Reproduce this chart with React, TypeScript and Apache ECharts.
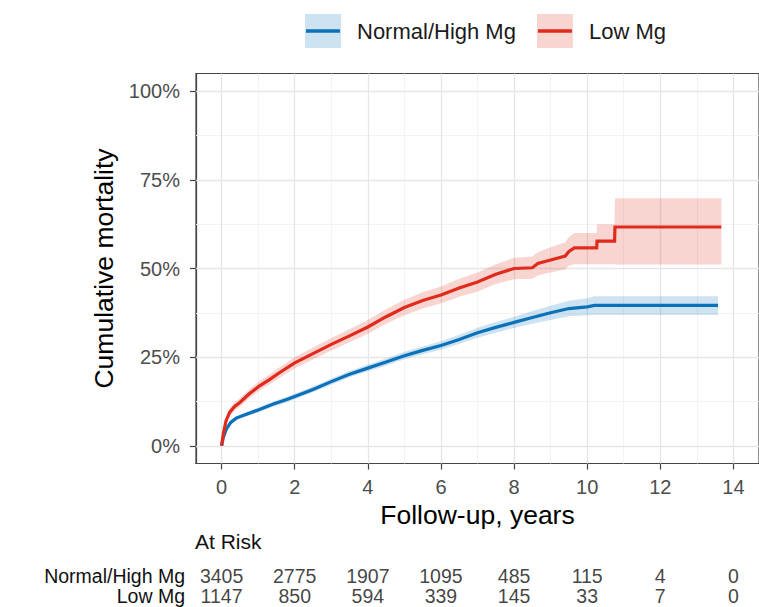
import React, { useEffect, useRef } from "react";
import * as echarts from "echarts";

// ---------- data ----------
const groups = ["Normal/High Mg", "Low Mg"];

const xTicks = [0, 2, 4, 6, 8, 10, 12, 14];
const xMinor = [1, 3, 5, 7, 9, 11, 13];
const yTicks = [0, 25, 50, 75, 100];
const yMinor = [12.5, 37.5, 62.5, 87.5];

// Normal/High Mg: cumulative mortality (%) with 95% CI
const normalTime = [0, 0.05, 0.13, 0.25, 0.4, 0.68, 1.0, 1.4, 1.8, 2.0, 2.5, 3.0, 3.5, 4.0, 4.5, 5.0, 5.5, 6.0, 6.5, 7.0, 7.5, 8.0, 8.5, 9.0, 9.5, 10.0, 10.2, 13.58];
const normalEst = [0, 2.5, 4.7, 6.6, 7.8, 8.9, 10.1, 11.7, 13.1, 13.9, 15.9, 18.1, 20.2, 21.9, 23.6, 25.4, 26.9, 28.3, 30.0, 31.9, 33.4, 34.8, 36.2, 37.5, 38.7, 39.2, 39.6, 39.6];
const normalLower = [0, 2.1, 4.2, 6.0, 7.2, 8.3, 9.4, 11.0, 12.3, 13.1, 15.1, 17.2, 19.3, 21.0, 22.6, 24.4, 25.8, 27.1, 28.7, 30.5, 31.9, 33.2, 34.4, 35.5, 36.5, 36.8, 36.9, 36.9];
const normalUpper = [0, 2.9, 5.2, 7.2, 8.4, 9.5, 10.8, 12.4, 13.9, 14.7, 16.7, 19.0, 21.1, 22.9, 24.6, 26.5, 28.0, 29.5, 31.3, 33.3, 34.9, 36.4, 38.0, 39.5, 40.9, 41.6, 42.2, 42.2];

// Low Mg: cumulative mortality (%) with 95% CI
const lowTime = [0, 0.05, 0.12, 0.22, 0.35, 0.5, 0.75, 1.04, 1.3, 1.58, 2.0, 2.5, 3.0, 3.5, 4.0, 4.5, 5.0, 5.5, 6.0, 6.5, 7.0, 7.5, 8.0, 8.5, 8.65, 9.0, 9.4, 9.5, 9.65, 10.26, 10.27, 10.75, 10.76, 13.67];
const lowEst = [0, 3.5, 7.0, 9.4, 11.0, 12.2, 14.6, 16.9, 18.6, 20.6, 23.4, 26.0, 28.6, 31.0, 33.5, 36.4, 39.0, 41.0, 42.5, 44.5, 46.2, 48.4, 50.0, 50.2, 51.4, 52.4, 53.5, 54.8, 55.8, 55.8, 57.7, 57.7, 61.7, 61.7];
const lowLower = [0, 2.8, 6.0, 8.3, 9.8, 11.0, 13.3, 15.6, 17.2, 19.1, 21.9, 24.3, 26.9, 29.2, 31.6, 34.4, 36.8, 38.7, 40.1, 42.0, 43.5, 45.6, 47.0, 47.1, 48.0, 48.9, 49.8, 50.8, 51.2, 51.2, 51.2, 51.2, 51.1, 51.1];
const lowUpper = [0, 4.2, 8.0, 10.5, 12.2, 13.4, 15.9, 18.3, 20.0, 22.1, 25.0, 27.7, 30.4, 32.9, 35.5, 38.5, 41.2, 43.3, 44.9, 47.1, 48.9, 51.2, 53.0, 53.4, 54.6, 56.0, 57.4, 58.9, 60.0, 60.0, 62.5, 62.5, 69.8, 69.8];

// Numbers at risk at each x tick
const riskNormal = [3405, 2775, 1907, 1095, 485, 115, 4, 0];
const riskLow = [1147, 850, 594, 339, 145, 33, 7, 0];

// ---------- styles ----------
const BLUE = "#0B72B9";
const RED = "#E02B1C";
const BLUE_FILL = "rgba(11,114,185,0.2)";
const RED_FILL = "rgba(224,43,28,0.2)";
const FONT = "'Liberation Sans', Arial, sans-serif";

function legendIcon(line: string, fill: string): string {
  const svg =
    `<svg xmlns="http://www.w3.org/2000/svg" width="47" height="34" viewBox="0 0 47 34">` +
    `<rect x="0" y="0" width="36" height="34" fill="${fill}"/>` +
    `<line x1="1" y1="17" x2="35" y2="17" stroke="${line}" stroke-width="3.6"/>` +
    `</svg>`;
  return "image://data:image/svg+xml;charset=utf-8," + encodeURIComponent(svg);
}

function bandSeries(name: string, fill: string, time: number[], lo: number[], hi: number[]) {
  return {
    type: "custom",
    name,
    xAxisIndex: 0,
    yAxisIndex: 0,
    z: 2,
    silent: true,
    data: time.map((t, i) => [t, lo[i], hi[i]]),
    encode: { x: 0, y: [1, 2] },
    renderItem: (params: any, api: any) => {
      if (params.dataIndexInside !== 0) return null;
      const up: number[][] = [];
      const dn: number[][] = [];
      for (let i = 0; i < time.length; i++) {
        const t = api.value(0, i);
        up.push(api.coord([t, api.value(2, i)]));
        dn.unshift(api.coord([t, api.value(1, i)]));
      }
      return {
        type: "polygon",
        shape: { points: up.concat(dn) },
        style: { fill },
      };
    },
  };
}

function lineSeries(name: string, color: string, time: number[], est: number[], extra: any = {}) {
  return {
    type: "line",
    name,
    xAxisIndex: 0,
    yAxisIndex: 0,
    z: 3,
    showSymbol: false,
    symbol: "none",
    data: time.map((t, i) => [t, est[i]]),
    lineStyle: { width: 3.2, color, cap: "butt", join: "miter" },
    itemStyle: { color },
    ...extra,
  };
}

const majorGrid = { color: "#E6E6E6", width: 1.3, type: "solid" };
const minorGrid = { color: "#F2F2F2", width: 0.9, type: "solid" };

export default function App() {
  const ref = useRef<HTMLDivElement>(null);

  useEffect(() => {
    if (!ref.current) return;
    const chart = echarts.init(ref.current, null, { renderer: "svg" });

    const gridLines = [
      ...xMinor.map((v) => ({ xAxis: v, lineStyle: minorGrid })),
      ...yMinor.map((v) => ({ yAxis: v, lineStyle: minorGrid })),
      ...xTicks.map((v) => ({ xAxis: v, lineStyle: majorGrid })),
      ...yTicks.map((v) => ({ yAxis: v, lineStyle: majorGrid })),
    ];

    const riskData = [
      ...riskNormal.map((n, i) => [xTicks[i], groups[0], n]),
      ...riskLow.map((n, i) => [xTicks[i], groups[1], n]),
    ];

    const option: any = {
      animation: false,
      textStyle: { fontFamily: FONT },
      title: {
        text: "At Risk",
        left: 195,
        top: 531,
        padding: 0,
        textStyle: { fontSize: 21, fontWeight: "normal", color: "#111", fontFamily: FONT },
      },
      legend: {
        left: 305,
        top: 14,
        padding: 0,
        itemWidth: 47,
        itemHeight: 34,
        itemGap: 21,
        selectedMode: false,
        textStyle: { fontSize: 22, color: "#1a1a1a", fontFamily: FONT },
        data: [
          { name: groups[0], icon: legendIcon(BLUE, BLUE_FILL) },
          { name: groups[1], icon: legendIcon(RED, RED_FILL) },
        ],
      },
      grid: [
        {
          left: 196,
          right: -4.5,
          top: 73.5,
          height: 390,
          show: true,
          borderColor: "#444",
          borderWidth: 1.2,
          backgroundColor: "transparent",
        },
        { left: 196, right: -4.5, top: 566, height: 40 },
      ],
      xAxis: [
        {
          type: "value",
          gridIndex: 0,
          min: -0.7,
          max: 14.7,
          minInterval: 2,
          maxInterval: 2,
          name: "Follow-up, years",
          nameLocation: "middle",
          nameGap: 36,
          nameTextStyle: { fontSize: 26.5, color: "#000", fontFamily: FONT },
          axisLine: { show: true, onZero: false, lineStyle: { color: "#444", width: 1.2 } },
          axisTick: { show: true, length: 6, customValues: xTicks, lineStyle: { color: "#444", width: 1.2 } },
          axisLabel: {
            show: true,
            customValues: xTicks,
            margin: 13,
            fontSize: 20,
            color: "#4D4D4D",
            fontFamily: FONT,
            formatter: (v: number) => (xTicks.includes(v) ? String(v) : ""),
          },
          splitLine: { show: false },
        },
        {
          type: "value",
          gridIndex: 1,
          min: -0.7,
          max: 14.7,
          show: false,
        },
      ],
      yAxis: [
        {
          type: "value",
          gridIndex: 0,
          min: -5,
          max: 105,
          minInterval: 25,
          maxInterval: 25,
          name: "Cumulative mortality",
          nameLocation: "middle",
          nameGap: 79,
          nameTextStyle: { fontSize: 26.5, color: "#000", fontFamily: FONT },
          axisLine: { show: true, onZero: false, lineStyle: { color: "#444", width: 1.2 } },
          axisTick: { show: true, length: 6, customValues: yTicks, lineStyle: { color: "#444", width: 1.2 } },
          axisLabel: {
            show: true,
            customValues: yTicks,
            margin: 16,
            fontSize: 20,
            color: "#4D4D4D",
            fontFamily: FONT,
            formatter: (v: number) => (yTicks.includes(v) ? v + "%" : ""),
          },
          splitLine: { show: false },
        },
        {
          type: "category",
          gridIndex: 1,
          data: groups,
          inverse: true,
          axisLine: { show: false },
          axisTick: { show: false },
          splitLine: { show: false },
          axisLabel: {
            show: true,
            interval: 0,
            hideOverlap: false,
            margin: 11,
            fontSize: 19.5,
            color: "#111",
            fontFamily: FONT,
          },
        },
      ],
      series: [
        bandSeries("Normal/High Mg CI", BLUE_FILL, normalTime, normalLower, normalUpper),
        bandSeries("Low Mg CI", RED_FILL, lowTime, lowLower, lowUpper),
        lineSeries(groups[0], BLUE, normalTime, normalEst, {
          markLine: {
            silent: true,
            z: 1,
            symbol: ["none", "none"],
            label: { show: false },
            emphasis: { disabled: true },
            data: gridLines,
          },
        }),
        lineSeries(groups[1], RED, lowTime, lowEst),
        {
          type: "scatter",
          name: "At Risk",
          xAxisIndex: 1,
          yAxisIndex: 1,
          symbolSize: 0,
          silent: true,
          data: riskData,
          encode: { x: 0, y: 1 },
          labelLayout: { hideOverlap: false },
          label: {
            show: true,
            position: "inside",
            fontSize: 19.5,
            color: "#111",
            fontFamily: FONT,
            formatter: (p: any) => String(p.value[2]),
          },
        },
      ],
    };

    chart.setOption(option);
    return () => chart.dispose();
  }, []);

  return (
    <div
      ref={ref}
      style={{ position: "absolute", left: 0, top: 0, width: 759, height: 607, background: "#fff" }}
    />
  );
}
